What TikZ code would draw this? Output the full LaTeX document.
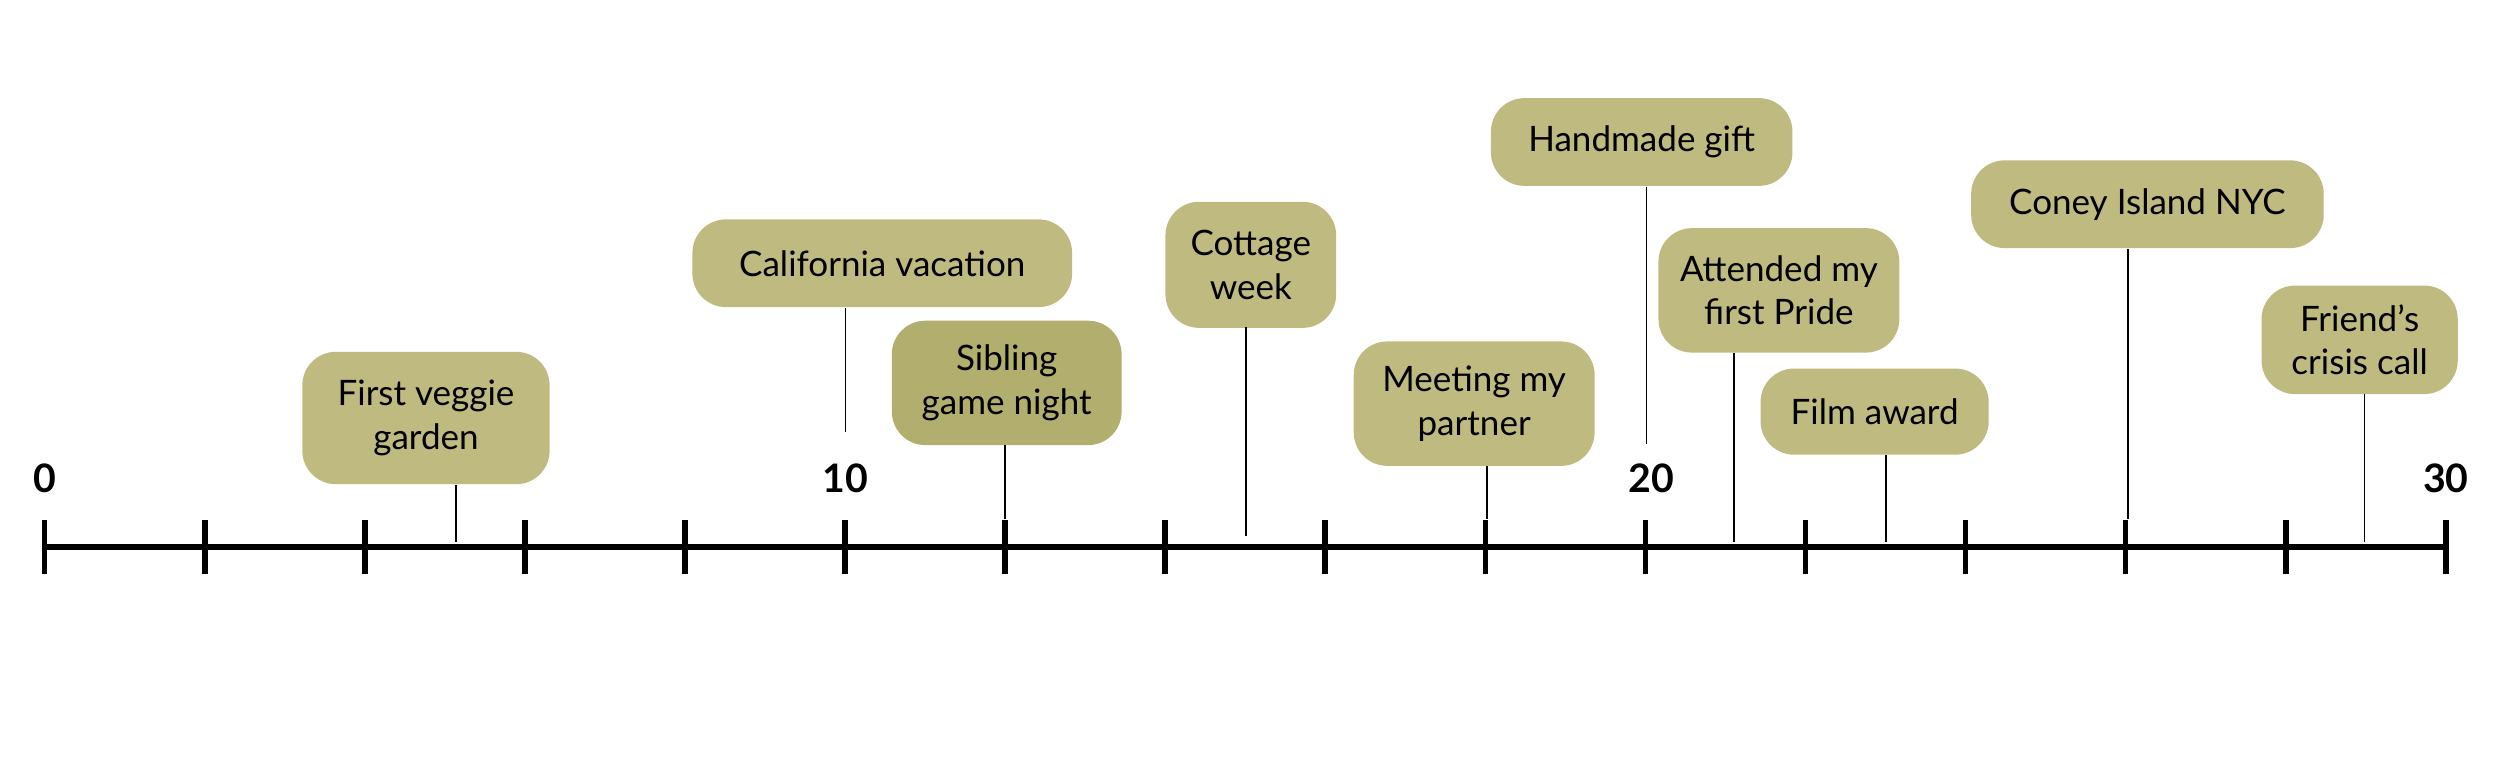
\documentclass[tikz,border=0pt]{standalone}
\usepackage{fontspec}
\setmainfont{Lato}
\definecolor{boxc}{HTML}{BFBA80}
\definecolor{boxd}{HTML}{B2AE6E}
\begin{document}
\begin{tikzpicture}[x=0.02cm,y=-0.02cm,
  ev/.style={fill=boxc,rounded corners=0.42cm,inner sep=0pt,align=center,font=\fontsize{12.5}{15.5}\selectfont},
  stem/.style={line width=0.6pt},
  tick/.style={line width=2pt},
  num/.style={font=\fontsize{14}{16}\selectfont\bfseries}]
\useasboundingbox (0,0) rectangle (1567,480);
\coordinate (a0) at (28,343);
\coordinate (a1) at (1533,343);
\draw[line width=2pt] (a0) -- (a1);
\foreach \k in {0,...,15}{
  \coordinate (t\k) at ({28+\k*100.333},343);
  \draw[tick] ([yshift=0.34cm]t\k) -- ([yshift=-0.34cm]t\k);
}
\node[num] (n0) at (28,300) {0};
\node[num] (n10) at (530,300) {10};
\node[num] (n20) at (1035,300) {20};
\node[num] (n30) at (1533,300) {30};
% events: name, center, w, h, stem x, stem bottom
\newcommand\evt[9]{%
  \node[ev,fill=#9,minimum width=#3*0.02cm,minimum height=#4*0.02cm] (#1) at (#2) {#5};
  \coordinate (#1s) at (#6,#7);
  \coordinate (#1e) at (#6,#8);
  \draw[stem] (#1s) -- (#1e);}
\evt{e1}{267,262}{155}{83}{First veggie\\garden}{286}{304}{340}{boxc}
\evt{e2}{553,165}{238}{55}{California vacation}{530}{193}{271}{boxc}
\evt{e3}{631,240}{144}{78}{Sibling\\game night}{630}{279}{325}{boxd}
\evt{e4}{784,166}{107}{79}{Cottage\\week}{781}{205}{336}{boxc}
\evt{e5}{924,253}{151}{78}{Meeting my\\partner}{932}{292}{325}{boxc}
\evt{e6}{1029,89}{189}{55}{Handmade gift}{1032}{117}{278}{boxc}
\evt{e7}{1115,182}{151}{78}{Attended my\\first Pride}{1087}{221}{340}{boxc}
\evt{e8}{1175,258}{143}{54}{Film award}{1182}{285}{340}{boxc}
\evt{e9}{1346,128}{221}{55}{Coney Island NYC}{1334}{156}{325}{boxc}
\evt{e10}{1479,213}{123}{68}{Friend’s\\crisis call}{1482}{247}{340}{boxc}
\end{tikzpicture}
\end{document}
